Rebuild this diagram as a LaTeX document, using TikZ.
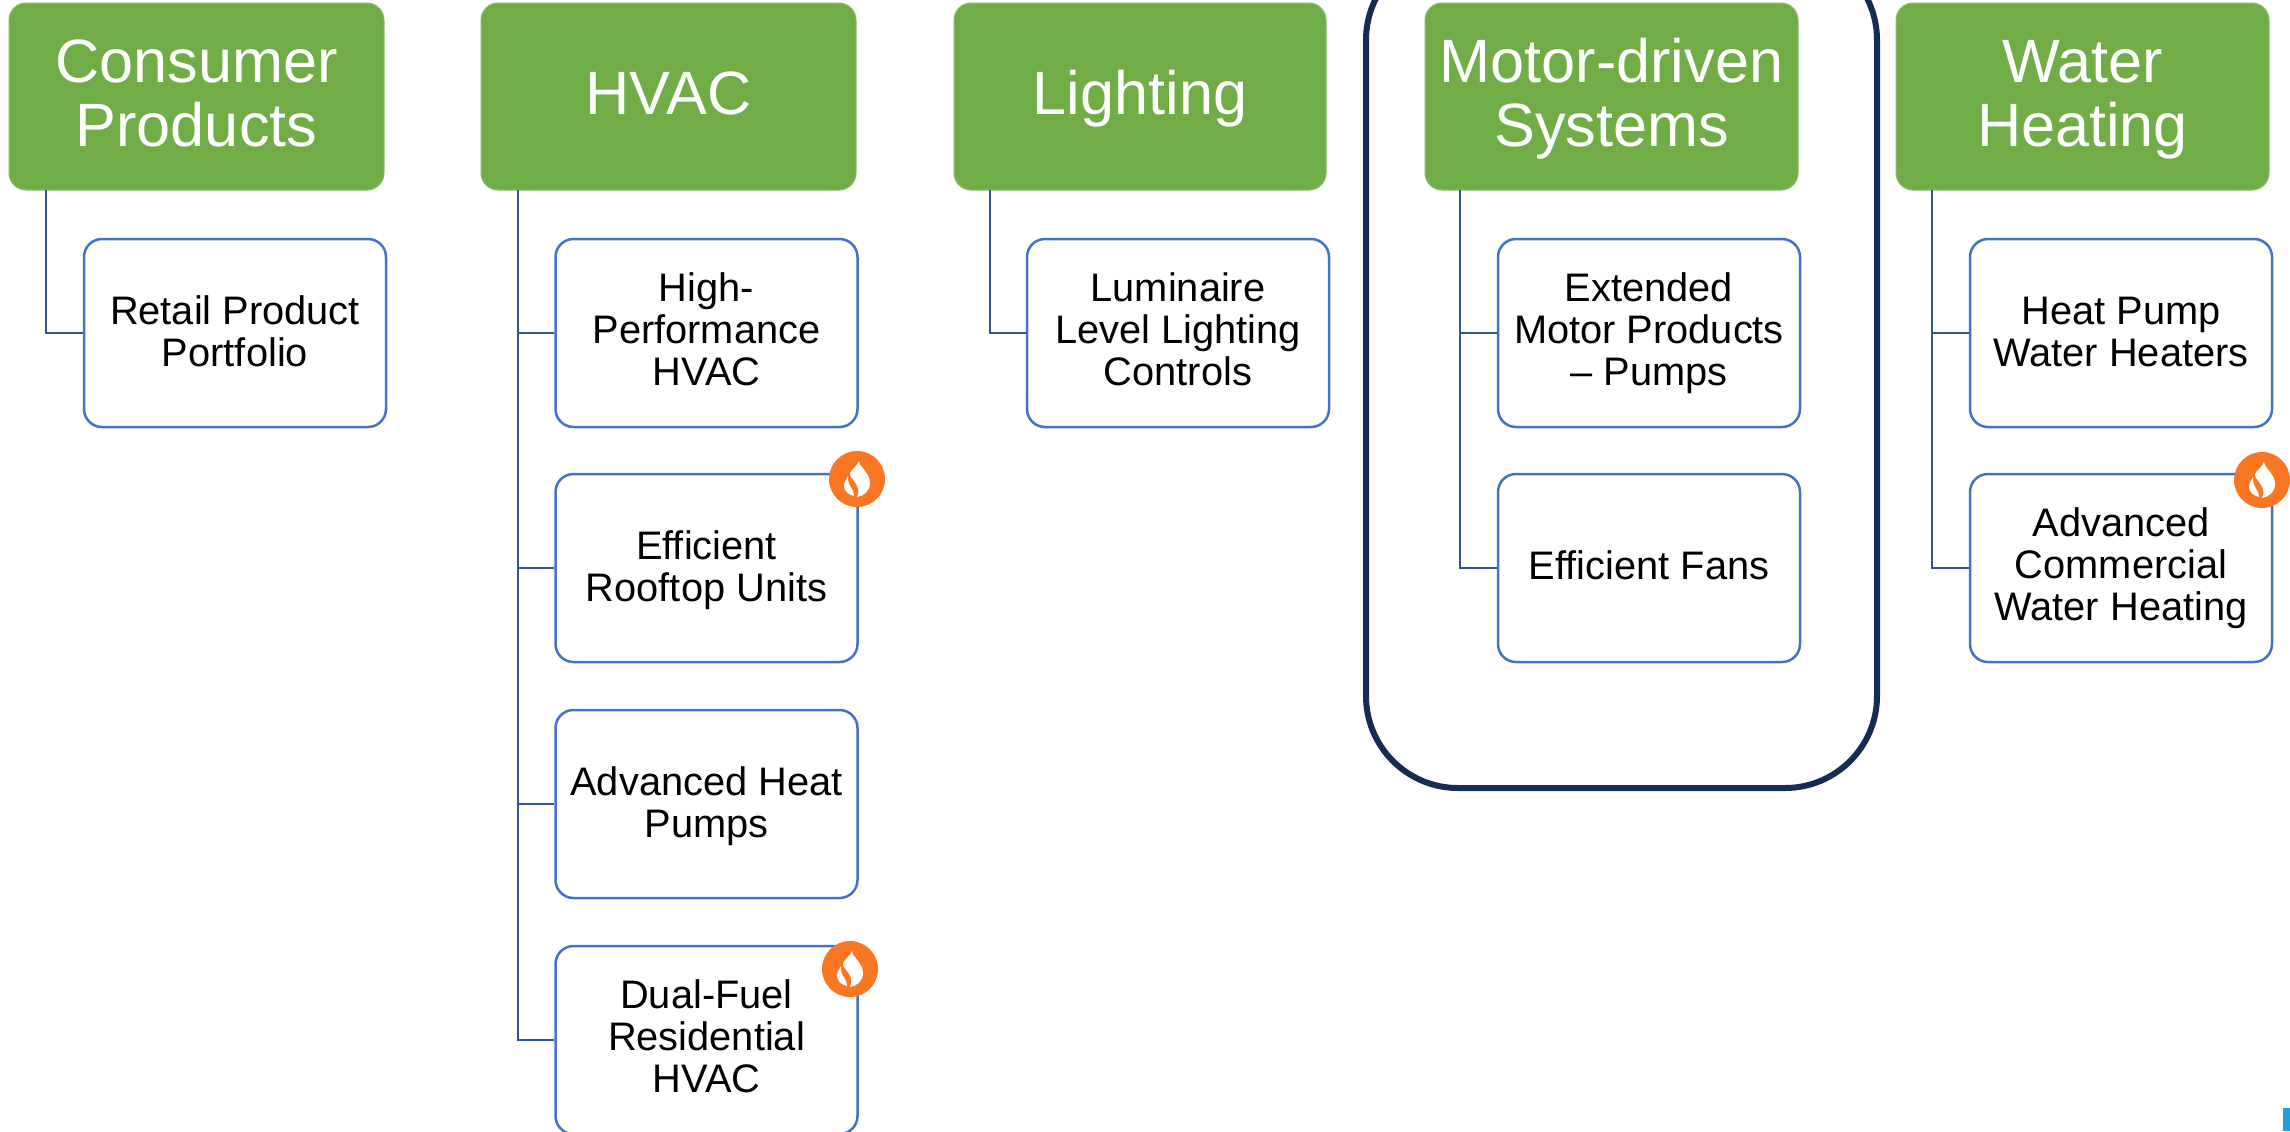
\documentclass[tikz,border=0pt]{standalone}
\usepackage{fontspec}
\setmainfont{Liberation Sans}
\definecolor{hdrgreen}{HTML}{70AD47}
\definecolor{boxblue}{HTML}{4472C4}
\definecolor{linkblue}{HTML}{2F5597}
\definecolor{ringnavy}{HTML}{172C54}
\definecolor{flameorange}{HTML}{F97623}
\definecolor{cornerblue}{HTML}{1F9FDC}
\tikzset{
  x=0.5pt,y=-0.5pt,
  hdr/.style={draw=hdrgreen!80!white,line width=0.5pt,fill=hdrgreen,rounded corners=8.5pt,text=white,align=center,
    minimum height=93.5pt,inner sep=0pt,font=\fontsize{30.6}{32}\selectfont,
    text height=25pt,text depth=7.5pt},
  hdrtwo/.style={hdr,text height=55pt,text depth=5.2pt},
  item/.style={draw=boxblue,line width=1.25pt,fill=white,rounded corners=9pt,text=black,align=center,
    minimum width=151pt,minimum height=94pt,inner sep=0pt,font=\fontsize{19.9}{21}\selectfont,
    text height=16.5pt,text depth=5pt},
  itemtwo/.style={item,text height=36pt,text depth=3pt},
  itemthree/.style={item,text height=55pt,text depth=3pt},
  link/.style={draw=linkblue,line width=1.3pt},
  badge/.style={circle,fill=flameorange,minimum size=28pt,inner sep=0pt},
  ring/.style={draw=ringnavy,line width=3pt,rounded corners=46pt},
}
\newcommand{\flameat}[1]{%
  \begin{scope}[shift={(#1)}]
    \fill[white] (2,-18) .. controls (3,-11) and (13,-6) .. (13,4)
      .. controls (13,12) and (7,17) .. (0,18)
      .. controls (3,12) and (1,7) .. (-3,2)
      .. controls (-6,-2) and (-8,-4) .. (-7,-6)
      .. controls (-5,-10) and (0,-13) .. (2,-18) -- cycle;
    \fill[white] (-9,-3) .. controls (-11,1) and (-13,3) .. (-13,7)
      .. controls (-13,12) and (-8,16) .. (-3,17)
      .. controls (-3,12) and (-6,9) .. (-8,5)
      .. controls (-9,2) and (-9,0) .. (-9,-3) -- cycle;
  \end{scope}}
\begin{document}
\begin{tikzpicture}
\useasboundingbox (0,0) rectangle (2290,1131);
\clip (0,0) rectangle (2290,1131);
\fill[white] (0,0) rectangle (2290,1131);

% outline round the motor-driven column
\node[ring,draw,minimum width=255.5pt,minimum height=420pt,anchor=south west,inner sep=0pt] (motorring) at (1363,791) {};

% headers
\node[hdrtwo,minimum width=187.5pt] (g1) at (196.5,96.5) {Consumer\\Products};
\node[hdr,minimum width=187.5pt] (g2) at (668.5,96.5) {HVAC};
\node[hdr,minimum width=186pt] (g3) at (1140,96.5) {Lighting};
\node[hdrtwo,minimum width=186.5pt] (g4) at (1611.5,96.5) {Motor-driven\\Systems};
\node[hdrtwo,minimum width=186.5pt] (g5) at (2082.5,96.5) {Water\\Heating};

% children
\node[itemtwo] (c1) at (235,333) {Retail Product\\Portfolio};
\node[itemthree] (c2a) at (706.5,333) {High-\\Performance\\HVAC};
\node[itemtwo] (c2b) at (706.5,568) {Efficient\\Rooftop Units};
\node[itemtwo] (c2c) at (706.5,804) {Advanced Heat\\Pumps};
\node[itemthree] (c2d) at (706.5,1040) {Dual-Fuel\\Residential\\HVAC};
\node[itemthree] (c3) at (1178,333) {Luminaire\\Level Lighting\\Controls};
\node[itemthree] (c4a) at (1649,333) {Extended\\Motor Products\\– Pumps};
\node[item] (c4b) at (1649,568) {Efficient Fans};
\node[itemtwo] (c5a) at (2121,333) {Heat Pump\\Water Heaters};
\node[itemthree] (c5b) at (2121,568) {Advanced\\Commercial\\Water Heating};

% connectors
\coordinate (t1) at (46,190);
\coordinate (t2) at (518,190);
\coordinate (t3) at (990,190);
\coordinate (t4) at (1460,190);
\coordinate (t5) at (1932,190);
\draw[link] (t1) |- (c1.west);
\draw[link] (t2) |- (c2a.west);
\draw[link] (t2) |- (c2b.west);
\draw[link] (t2) |- (c2c.west);
\draw[link] (t2) |- (c2d.west);
\draw[link] (t3) |- (c3.west);
\draw[link] (t4) |- (c4a.west);
\draw[link] (t4) |- (c4b.west);
\draw[link] (t5) |- (c5a.west);
\draw[link] (t5) |- (c5b.west);

% flame badges
\node[badge] (f1) at (857,479) {};
\flameat{857,479}
\node[badge] (f2) at (850,969) {};
\flameat{850,969}
\node[badge] (f3) at (2262,480) {};
\flameat{2262,480}

% cut-off mark in the corner
\fill[cornerblue] (2283,1108) rectangle (2290,1131);
\end{tikzpicture}
\end{document}
